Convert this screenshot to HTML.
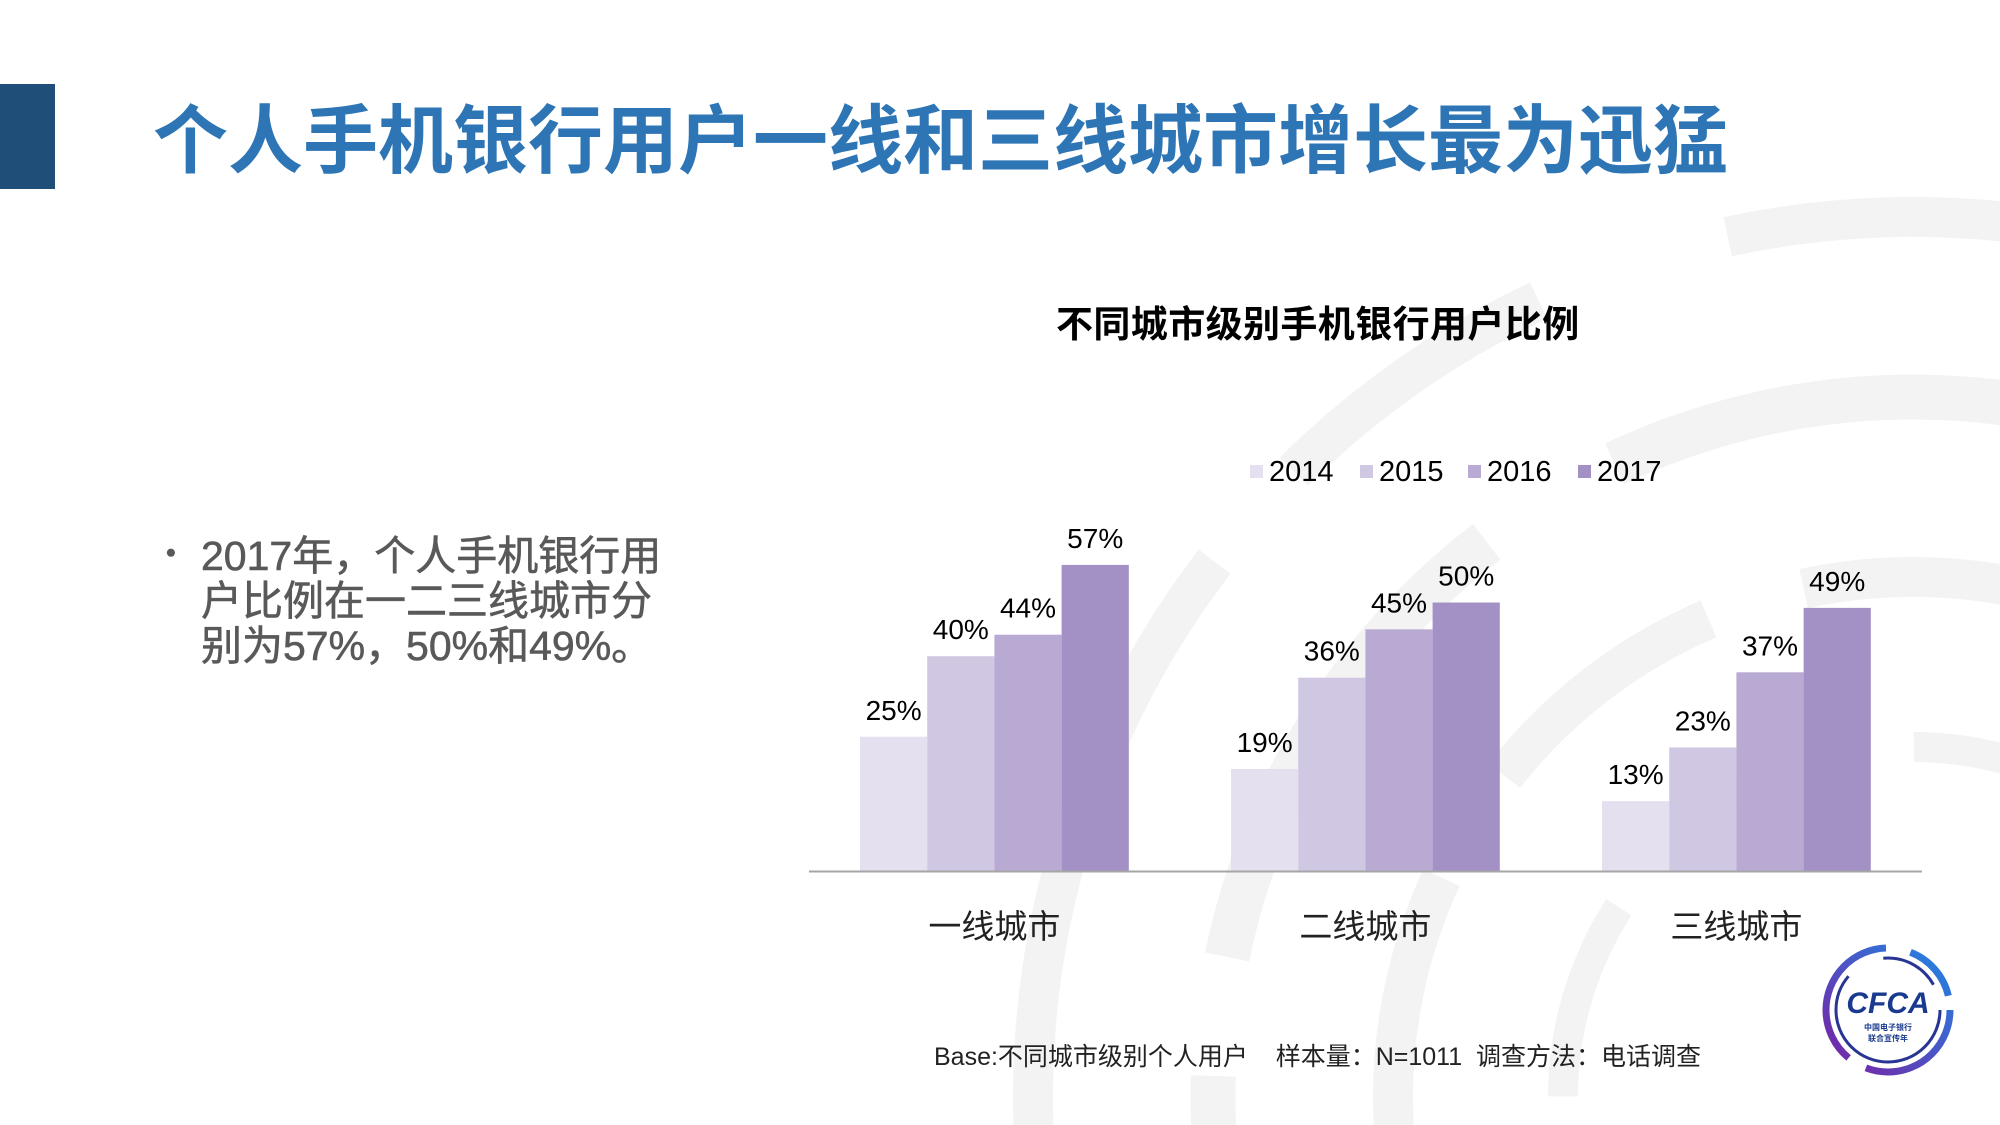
<!DOCTYPE html>
<html><head><meta charset="utf-8">
<style>
html,body{margin:0;padding:0;background:#fff;width:2000px;height:1125px;overflow:hidden;}
#root{position:relative;width:2000px;height:1125px;overflow:hidden;background:#fff;font-family:"Liberation Sans","Noto Sans CJK SC",sans-serif;}
.abs{position:absolute;white-space:nowrap;}
svg{display:block;}
</style></head>
<body>
<div id="root">
<svg class="abs" style="left:0;top:0" width="2000" height="1125">
  <g fill="none" stroke="#f3f3f3" stroke-linecap="butt">
    <circle cx="1913" cy="1097" r="880" stroke-width="40" stroke-dasharray="700 120 300 200"/>
    <circle cx="1913" cy="1097" r="700" stroke-width="45" stroke-dasharray="500 150 400 120"/>
    <circle cx="1913" cy="1097" r="520" stroke-width="40" stroke-dasharray="300 120 260 100"/>
    <circle cx="1913" cy="1097" r="350" stroke-width="30" stroke-dasharray="200 90 180 80"/>
  </g>
</svg>
<div class="abs" style="left:0;top:84px;width:55px;height:105px;background:#1f4e79"></div>
<div class="abs" style="left:153px;top:96px;font-size:75px;line-height:90px;font-weight:bold;color:#2e75b6;letter-spacing:0px">个人手机银行用户一线和三线城市增长最为迅猛</div>
<div class="abs" style="left:166px;top:534px;font-size:41px;line-height:45px;color:#595959;-webkit-text-stroke:0.6px #595959"><span style="position:absolute;left:0;top:-4px;font-size:28px">•</span><div style="margin-left:35px">2017年，个人手机银行用<br>户比例在一二三线城市分<br>别为57%，50%和49%。</div></div>
<div class="abs" style="left:1056px;top:302px;font-size:37px;line-height:46px;font-weight:bold;color:#000;letter-spacing:0.4px">不同城市级别手机银行用户比例</div>
<svg id="chart" class="abs" style="left:0;top:0" width="2000" height="1125"></svg>
<div class="abs" style="left:934px;top:1042px;font-size:25px;line-height:30px;color:#222">Base:不同城市级别个人用户&nbsp;&nbsp;&nbsp;&nbsp;样本量：N=1011&nbsp;&nbsp;调查方法：电话调查</div>
<svg class="abs" style="left:1818px;top:940px" width="140" height="140">
  <defs><linearGradient id="lg" x1="0" y1="1" x2="1" y2="0"><stop offset="0" stop-color="#7b1fa2"/><stop offset="1" stop-color="#1e88e5"/></linearGradient></defs>
  <circle cx="70" cy="70" r="62" fill="none" stroke="url(#lg)" stroke-width="7" stroke-dasharray="120 20 150 25 60 15"/>
  <circle cx="70" cy="70" r="52" fill="none" stroke="#283593" stroke-width="3" stroke-dasharray="200 40 60 30"/>
  <text x="70" y="73" text-anchor="middle" font-family="Liberation Sans" font-weight="bold" font-style="italic" font-size="30" fill="#1a3a8f">CFCA</text>
  <text x="70" y="90" text-anchor="middle" font-family="Noto Sans CJK SC,sans-serif" font-weight="bold" font-size="8" fill="#1a3a8f">中国电子银行</text>
  <text x="70" y="101" text-anchor="middle" font-family="Noto Sans CJK SC,sans-serif" font-weight="bold" font-size="8" fill="#1a3a8f">联合宣传年</text>
</svg>
</div>
<script>
const categories = ["一线城市","二线城市","三线城市"];
const seriesNames = ["2014","2015","2016","2017"];
const s2014 = [25,19,13];
const s2015 = [40,36,23];
const s2016 = [44,45,37];
const s2017 = [57,50,49];
const seriesColors = ["#e4e0ef","#d0c8e2","#b9aad4","#a391c6"];
const allSeries = [s2014,s2015,s2016,s2017];
const NS="http://www.w3.org/2000/svg";
const svg=document.getElementById('chart');
const baseY=871, pxPerPct=5.37, g0=860, groupStep=371, barW=67.2;
function yScale(v){return baseY - v*pxPerPct;}
function xScale(ci,si){return g0 + ci*groupStep + si*barW;}
function mk(tag,attrs){const e=document.createElementNS(NS,tag);for(const k in attrs)e.setAttribute(k,attrs[k]);svg.appendChild(e);return e;}
allSeries.forEach((vals,si)=>{
  vals.forEach((v,ci)=>{
    const r=mk('rect',{x:xScale(ci,si),y:yScale(v),width:barW,height:baseY-yScale(v),fill:seriesColors[si]});
    
    
    const t=mk('text',{x:xScale(ci,si)+barW/2,y:yScale(v)-17,'text-anchor':'middle','font-size':28,'font-family':'Liberation Sans',fill:'#000'});
    t.textContent=v+'%';
    
    
  });
});
const ax=mk('line',{x1:809,x2:1922,y1:baseY+0.5,y2:baseY+0.5,stroke:'#a6a6a6','stroke-width':2});


categories.forEach((c,ci)=>{
  const t=mk('text',{x:xScale(ci,2),y:938,'text-anchor':'middle','font-size':33,'font-family':'Liberation Sans, Noto Sans CJK SC, sans-serif',fill:'#222'});
  t.textContent=c;
  
  
});
const legX=[1250,1360,1468,1578];
seriesNames.forEach((n,si)=>{
  const r=mk('rect',{x:legX[si],y:465,width:13,height:13,fill:seriesColors[si]});
  
  
  const t=mk('text',{x:legX[si]+19,y:481,'font-size':29,'font-family':'Liberation Sans',fill:'#000'});
  t.textContent=n;
  
  
});
</script>
</body></html>
